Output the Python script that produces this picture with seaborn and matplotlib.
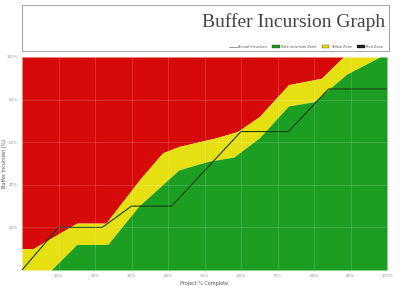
import matplotlib
matplotlib.use("Agg")
import matplotlib.pyplot as plt
from matplotlib.patches import Rectangle
from matplotlib.lines import Line2D
from matplotlib.patches import Patch
import numpy as np
import pandas as pd
import seaborn as sns

# project completion (%) -> zone boundaries (% buffer incursion)
green_x = [0, 8, 15, 23.5, 32, 43, 51, 58, 65, 73, 80, 89, 98, 100]
green_top = [0, 0, 12, 12, 30, 47, 51, 53, 62, 77, 79, 92, 100, 100]

yellow_x = [0, 3, 15, 23, 32, 38.5, 43, 53, 59, 65, 73, 82, 88, 100]
yellow_top = [10, 10, 22, 22, 42, 55, 58, 62, 65, 72, 87, 90, 100, 100]

actual_x = [0, 10, 22, 30, 41, 60, 73, 84, 100]
actual_y = [0, 20, 20, 30, 30, 65, 65, 85, 85]

x_ticks = [10, 20, 30, 40, 50, 60, 70, 80, 90, 100]
y_ticks = [20, 40, 60, 80, 100]

legend_labels = ["Actual Incursion", "Safe Incursion Zone", "Yellow Zone", "Red Zone"]

RED = "#d60a08"
YELLOW = "#e6df12"
GREEN = "#1c9e22"

sns.set_theme(style="white")
plt.rcParams["font.family"] = ["DejaVu Sans"]

fig = plt.figure(figsize=(4.05, 2.86), dpi=100)
ax = fig.add_axes([22 / 405, 16 / 286, 365 / 405, 213 / 286])

grid = np.linspace(0, 100, 501)
g = np.interp(grid, green_x, green_top)
yv = np.interp(grid, yellow_x, yellow_top)

ax.fill_between(grid, yv, 100, color=RED, lw=0)
ax.fill_between(grid, g, yv, color=YELLOW, lw=0)
ax.fill_between(grid, 0, g, color=GREEN, lw=0)

df = pd.DataFrame({"x": actual_x, "y": actual_y})
sns.lineplot(data=df, x="x", y="y", color="#1b3d12", lw=0.8, ax=ax, sort=False)

for v in x_ticks[:-1]:
    ax.axvline(v, color="white", alpha=0.15, lw=0.8)
for v in y_ticks[:-1]:
    ax.axhline(v, color="white", alpha=0.15, lw=0.8)

ax.set_xlim(0, 100)
ax.set_ylim(0, 100)
ax.set_xticks(x_ticks)
ax.set_yticks(y_ticks)
ax.set_xticklabels([f"{t}%" for t in x_ticks], fontsize=3, color="#777777")
ax.set_yticklabels([f"{t}%" for t in y_ticks], fontsize=3, color="#777777")
ax.tick_params(length=1.5, pad=1.5, colors="#999999")
ax.set_xlabel("Project % Complete", fontsize=3.5, color="#555555", labelpad=2)
ax.set_ylabel("Buffer Incursion (%)", fontsize=3.5, color="#555555")
ax.yaxis.set_label_coords(-0.042, 0.5)
for s in ax.spines.values():
    s.set_visible(False)

# title box
box = Rectangle((22 / 405, 235 / 286), 367 / 405, 46 / 286, transform=fig.transFigure,
                facecolor="white", edgecolor="#aaaaaa", lw=0.8)
fig.patches.append(box)
fig.text(385 / 405, 264 / 286, "Buffer Incursion Graph", ha="right", va="center",
         fontsize=14, family="Liberation Serif", color="#444444")

handles = [
    Line2D([0], [0], color="#888888", lw=0.6),
    Patch(facecolor=GREEN, edgecolor="black", lw=0.2),
    Patch(facecolor=YELLOW, edgecolor="black", lw=0.2),
    Patch(facecolor="#202020", edgecolor="black", lw=0.2),
]
fig.legend(handles, legend_labels, loc="center right", bbox_to_anchor=(386 / 405, 239 / 286),
           ncol=4, fontsize=2.5, frameon=False, handlelength=2.2, handleheight=0.8,
           columnspacing=1.5, handletextpad=0.4, labelcolor="#555555")

fig.savefig("out.png", dpi=100)
